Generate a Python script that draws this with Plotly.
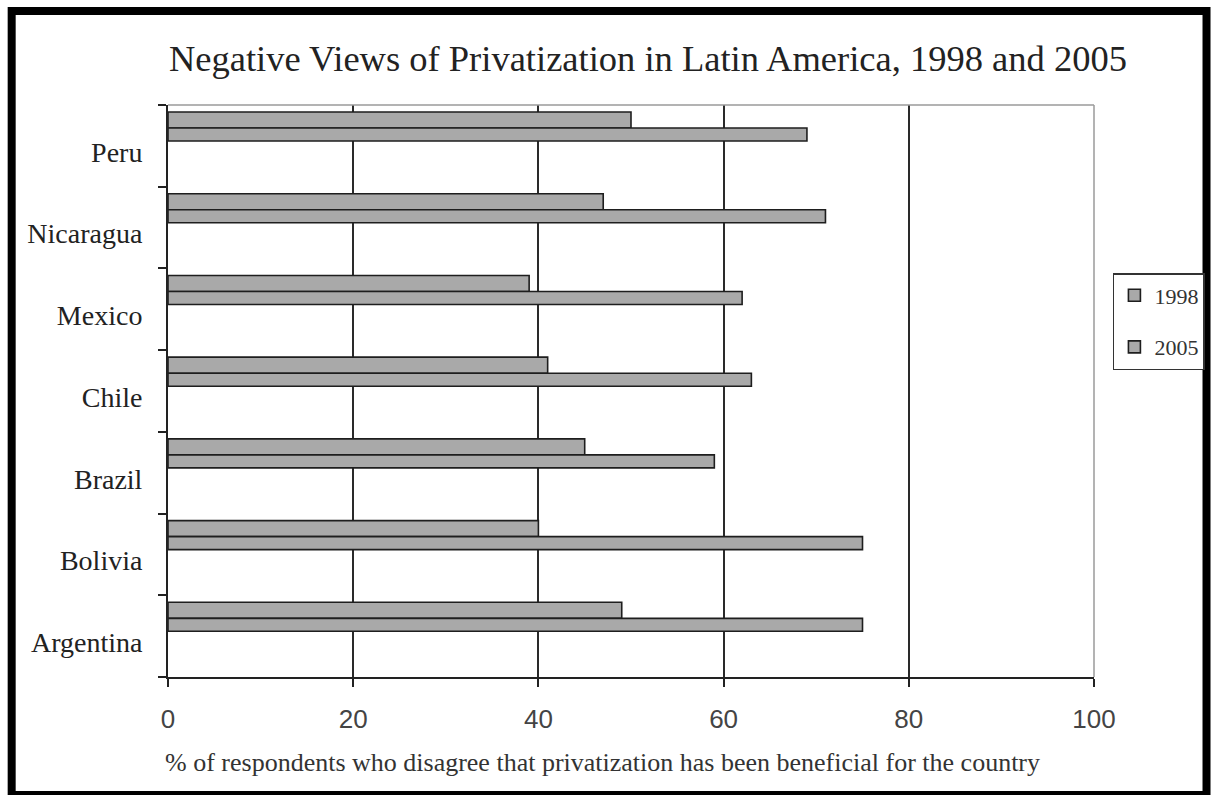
import plotly.graph_objects as go

countries = ["Argentina", "Bolivia", "Brazil", "Chile", "Mexico", "Nicaragua", "Peru"]
values_1998 = [49, 40, 45, 41, 39, 47, 50]
values_2005 = [75, 75, 59, 63, 62, 71, 69]
x_ticks = [0, 20, 40, 60, 80, 100]

title_text = "Negative Views of Privatization in Latin America, 1998 and 2005"
x_title_text = "% of respondents who disagree that privatization has been beneficial for the country"

W, H = 1217, 795
ML, MR, MT, MB = 168, 119, 105, 118
PW, PH = W - ML - MR, H - MT - MB


def px_x(px):
    return (px - ML) / PW


def px_y(py):
    return (H - MB - py) / PH


serif = "Liberation Serif, Times New Roman, serif"
sans = "Liberation Sans, Arial, sans-serif"
bar_fill = "#a9a9a9"
bar_line = "#1e1e1e"

fig = go.Figure()
fig.add_trace(go.Bar(
    y=countries, x=values_1998, name="1998", orientation="h",
    offset=0.218, width=0.196,
    marker=dict(color=bar_fill, line=dict(color=bar_line, width=1.6)),
    legendgroup="a",
))
fig.add_trace(go.Bar(
    y=countries, x=values_2005, name="2005", orientation="h",
    offset=0.059, width=0.159,
    marker=dict(color=bar_fill, line=dict(color=bar_line, width=1.6)),
    legendgroup="b",
))

fig.update_layout(
    width=W, height=H,
    margin=dict(l=ML, r=MR, t=MT, b=MB),
    paper_bgcolor="white", plot_bgcolor="white",
    barmode="overlay",
    showlegend=True,
    title=dict(text=title_text, x=px_x(650), xref="paper", xanchor="center",
               y=1 - 58 / H, yref="container", yanchor="middle",
               font=dict(family=serif, size=36.5, color="#222")),
    legend=dict(x=px_x(1117), y=px_y(273), xanchor="left", yanchor="top",
                bordercolor="#333", borderwidth=1.5, bgcolor="white",
                font=dict(family=serif, size=22, color="#333"),
                tracegroupgap=20, itemwidth=30),
    xaxis=dict(range=[0, 100], tickvals=x_ticks, ticks="outside", ticklen=8,
               tickcolor="#222", tickwidth=1.5,
               showline=True, linecolor="#222", linewidth=2,
               showgrid=True, gridcolor="#2a2a2a", gridwidth=1.5,
               zeroline=False,
               tickfont=dict(family=sans, size=26, color="#444"),
               ticklabelstandoff=10),
    yaxis=dict(range=[-0.5, 6.5], type="category", tickson="boundaries",
               ticks="outside", ticklen=8, tickcolor="#222", tickwidth=1.5,
               showline=True, linecolor="#222", linewidth=2,
               showgrid=False, zeroline=False,
               tickfont=dict(family=serif, size=28, color="#222"),
               ticklabelstandoff=18, ticklabelshift=6),
    annotations=[dict(text=x_title_text, xref="paper", yref="paper",
                      x=px_x(604), y=px_y(762), xanchor="center", yanchor="middle",
                      showarrow=False,
                      font=dict(family=serif, size=26, color="#333"))],
    shapes=[
        # grey plot-area border top and right
        dict(type="line", xref="paper", yref="paper", x0=0, x1=1, y0=1, y1=1,
             line=dict(color="#9a9a9a", width=1.5)),
        dict(type="line", xref="paper", yref="paper", x0=1, x1=1, y0=0, y1=1,
             line=dict(color="#9a9a9a", width=1.5)),
        # outer black frame
        dict(type="rect", xref="paper", yref="paper",
             x0=px_x(11), x1=px_x(1211), y0=px_y(795), y1=px_y(11),
             line=dict(color="black", width=8), fillcolor="rgba(0,0,0,0)"),
    ],
)

fig.write_html("out.html")
